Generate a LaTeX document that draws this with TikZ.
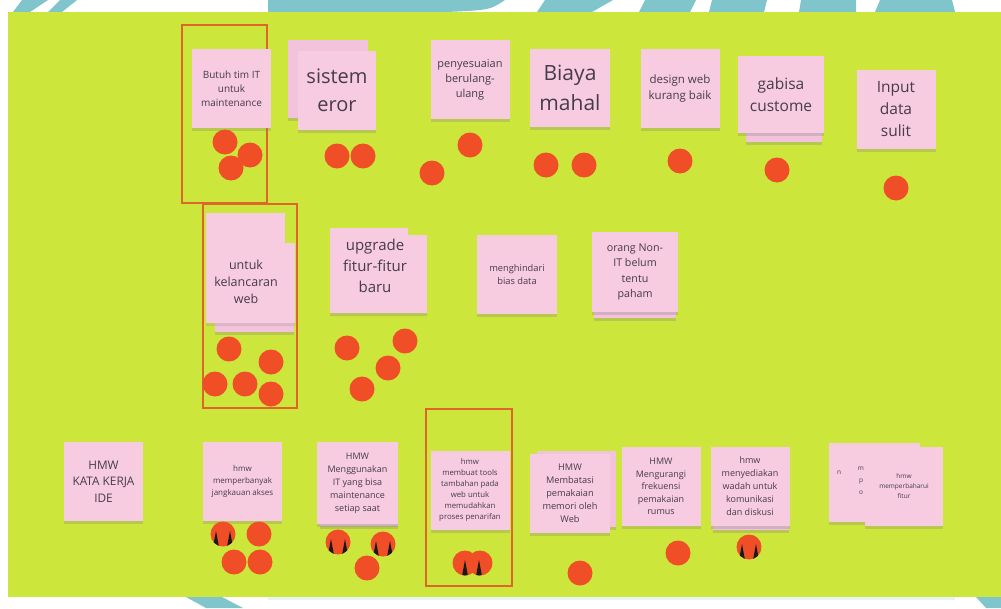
\documentclass[tikz,border=0pt]{standalone}
\usepackage{fontspec}
\setmainfont{Open Sans}
\usepackage{tikz}
\usetikzlibrary{shadows}
\definecolor{boardgreen}{HTML}{CCE63C}
\definecolor{stickypink}{HTML}{F7CBE0}
\definecolor{stickyback}{HTML}{F2C3DA}
\definecolor{votered}{HTML}{F04E26}
\definecolor{frameorange}{HTML}{E0652A}
\definecolor{inkgrey}{HTML}{463C4A}
\definecolor{stripeteal}{HTML}{80C5CB}
\definecolor{paleblue}{HTML}{E4F4F7}

\begin{document}
\begin{tikzpicture}[x=1pt,y=-1pt,
	sticky/.style={fill=stickypink, minimum width=79pt, minimum height=79pt, inner sep=1pt,
		text=inkgrey, align=center,
		drop shadow={shadow xshift=0pt, shadow yshift=-3pt, opacity=0.28}},
	stickylow/.style={fill=stickyback, drop shadow={shadow xshift=0pt, shadow yshift=-3pt, opacity=0.3}},
	label/.style={text=inkgrey, align=center, inner sep=0pt},
	vote/.style={fill=votered},
	horn/.style={fill=black!90},
	boardframe/.style={draw=frameorange, line width=1.5pt}]

	\useasboundingbox (0,0) rectangle (1001,608);
	\fill[white] (0,0) rectangle (1001,608);

	% stripes above and below the board
	\begin{scope}
		\clip (0,0) rectangle (1001,12);
		\fill[stripeteal] (22,0) -- (48,0) -- (30,12) -- (13,12) -- cycle;
		\fill[stripeteal] (60,0) -- (77,0) -- (62,12) -- (48,12) -- cycle;
		\fill[stripeteal] (268,0) -- (505,0) .. controls (490,10) .. (447,12) -- (268,12) -- cycle;
		\fill[stripeteal] (545,0) -- (613,0) -- (592,12) -- (537,12) -- cycle;
		\fill[stripeteal] (645,0) -- (696,0) -- (690,12) -- (639,12) -- cycle;
		\fill[stripeteal] (712,0) -- (767,0) -- (764,12) -- (709,12) -- cycle;
		\fill[stripeteal] (801,0) -- (856,0) -- (856,12) -- (799,12) -- cycle;
		\fill[stripeteal] (880,0) -- (952,0) -- (955,12) -- (875,12) -- cycle;
	\end{scope}
	\fill[stripeteal] (186,597) -- (222,597) -- (243,608) -- (206,608) -- cycle;
	\fill[paleblue] (268,597) rectangle (955,600);
	\fill[stripeteal] (976,597) -- (1001,597) -- (1001,608) -- (986,608) -- cycle;

	\fill[boardgreen] (8,12) rectangle (1001,597);

	% frames
	\draw[boardframe] (182,25) rectangle (267,203);
	\draw[boardframe] (203,204) rectangle (297,408);
	\draw[boardframe] (426,409) rectangle (512,586);

	% top row
	\node[sticky, font=\fontsize{10}{14}\selectfont] (butuh) at (231.5,88.5) {Butuh tim IT\\untuk\\maintenance};
	\fill[stickylow] (288,40) rectangle (368,118);
	\node[sticky, minimum width=78pt, font=\fontsize{20}{28}\selectfont] (sistem) at (337,90.5) {sistem\\eror};
	\node[sticky, font=\fontsize{11}{15}\selectfont] (penyesuaian) at (470,79.5) {penyesuaian\\berulang-\\ulang};
	\node[sticky, minimum width=80pt, minimum height=78pt, font=\fontsize{21}{30}\selectfont] (biaya) at (570,88) {Biaya\\mahal};
	\node[sticky, font=\fontsize{11.5}{16}\selectfont] (design) at (680,88.5) {design web\\kurang baik};
	\fill[stickylow] (746,62) rectangle (822,142);
	\node[sticky, minimum width=86pt, minimum height=77pt, font=\fontsize{15.5}{22}\selectfont] (gabisa) at (781,94.5) {gabisa\\custome};
	\node[sticky, font=\fontsize{15.5}{22}\selectfont] (inputdata) at (896,109) {Input\\data\\sulit};

	% middle row
	\fill[stickylow] (215,250) rectangle (294,332);
	\path[fill=stickypink, drop shadow={shadow xshift=0pt, shadow yshift=-3pt, opacity=0.2}]
		(206,213) -- (285,213) -- (285,243) -- (295,243) -- (295,323) -- (206,323) -- cycle;
	\node[label, font=\fontsize{12.5}{17}\selectfont] (kelancaran) at (246,282) {untuk\\kelancaran\\web};
	\path[fill=stickypink, drop shadow={shadow xshift=0pt, shadow yshift=-3pt, opacity=0.3}]
		(330,228) -- (408,228) -- (408,235) -- (427,235) -- (427,313) -- (330,313) -- cycle;
	\node[label, font=\fontsize{15}{21}\selectfont] (upgrade) at (375,266) {upgrade\\fitur-fitur\\baru};
	\node[sticky, minimum width=80pt, font=\fontsize{9.3}{13.5}\selectfont] (menghindari) at (517,274.5) {menghindari\\bias data};
	\fill[stickylow] (594,240) rectangle (676,318);
	\node[sticky, minimum width=86pt, minimum height=80pt, font=\fontsize{10.7}{15.5}\selectfont] (orangnonit) at (635,272) {orang Non-\\IT belum\\tentu\\paham};

	% bottom row
	\node[sticky, font=\fontsize{11.8}{16.7}\selectfont] (katakerja) at (103.5,481.5) {HMW\\KATA KERJA\\IDE};
	\node[sticky, font=\fontsize{8}{11.7}\selectfont] (jangkauan) at (242.5,481.5) {hmw\\memperbanyak\\jangkauan akses};
	\fill[stickylow] (320,445) rectangle (398,526);
	\node[sticky, minimum width=81pt, minimum height=82pt, font=\fontsize{9}{13}\selectfont] (menggunakan) at (357.5,483) {HMW\\Menggunakan\\IT yang bisa\\maintenance\\setiap saat};
	\node[sticky, font=\fontsize{7.8}{11}\selectfont] (tools) at (470,490) {hmw\\membuat tools\\tambahan pada\\web untuk\\memudahkan\\proses penarifan};
	\fill[stickylow] (537,451) rectangle (616,527);
	\node[sticky, minimum width=80pt, font=\fontsize{9.2}{13}\selectfont] (membatasi) at (570,493.5) {HMW\\Membatasi\\pemakaian\\memori oleh\\Web};
	\node[sticky, font=\fontsize{9}{12.5}\selectfont] (mengurangi) at (661,486.5) {HMW\\Mengurangi\\frekuensi\\pemakaian\\rumus};
	\fill[stickylow] (713,455) rectangle (789,530);
	\node[sticky, font=\fontsize{9}{13}\selectfont] (menyediakan) at (750,486) {hmw\\menyediakan\\wadah untuk\\komunikasi\\dan diskusi};
	\node[sticky, minimum width=91pt, font=\fontsize{6.5}{10}\selectfont] (hidden) at (874.5,482.5) {};
	\node[label, font=\fontsize{6.5}{10}\selectfont] (hiddena) at (839,473) {n};
	\node[label, font=\fontsize{6.5}{12}\selectfont] (hiddenb) at (861,481) {m\\p\\o};
	\node[sticky, minimum width=78pt, font=\fontsize{6.5}{10}\selectfont] (memperbaharui) at (904,486) {hmw\\memperbaharui\\fitur};

	% votes
	\foreach \x/\y in {225/142,250/155,231/168,337/156,363/156,470/145,432/173,546/165,584/165,680/161,777/170,896/188,
		229/349,271/362,215/384,245/384,271/394,347/348,405/341,388/368,362/389,
		223/534,259/534,234/562,260/562,338/542,383/544,367/568,465/563,480/563,580/573,678/553,749/547}
	{
		\fill[vote] (\x,\y) circle (12.5);
	}
	\foreach \x/\y/\r in {223/534/0,338/542/0,383/544/0,472/563/-7,749/547/0}
	{
		\begin{scope}
			\clip (\x+\r,\y) circle (12.5) (\x-\r,\y) circle (12.5);
			\fill[horn] (\x-10,\y+13) -- (\x-7,\y-3) -- (\x-4,\y+13) -- cycle;
			\fill[horn] (\x+10,\y+13) -- (\x+7,\y-3) -- (\x+4,\y+13) -- cycle;
		\end{scope}
	}
\end{tikzpicture}
\end{document}
